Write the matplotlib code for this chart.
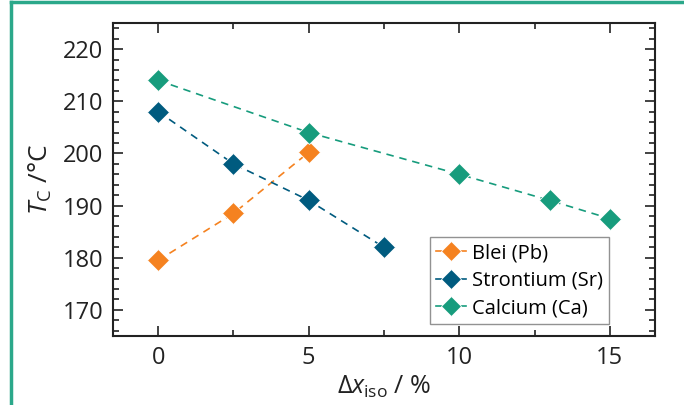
import matplotlib.pyplot as plt
from matplotlib.lines import Line2D
from matplotlib.ticker import MultipleLocator

# data
pb_x = [0, 2.5, 5]
pb_tc = [179.5, 188.5, 200.2]
sr_x = [0, 2.5, 5, 7.5]
sr_tc = [208, 198, 191, 182]
ca_x = [0, 5, 10, 13, 15]
ca_tc = [214, 204, 196, 191, 187.5]

labels = ['Blei (Pb)', 'Strontium (Sr)', 'Calcium (Ca)']
colors = ['#F58220', '#005B7F', '#179C7D']

plt.rcParams['font.family'] = ['Open Sans', 'DejaVu Sans']
plt.rcParams['mathtext.fontset'] = 'custom'
plt.rcParams['mathtext.it'] = 'Open Sans:italic'
plt.rcParams['mathtext.rm'] = 'Open Sans'

W, H = 684, 405
fig = plt.figure(figsize=(6.84, 4.05), dpi=100)
ax = fig.add_axes([113 / W, 1 - 336 / H, (655 - 113) / W, (336 - 23) / H])

for xs, ys, c, lab in zip([pb_x, sr_x, ca_x], [pb_tc, sr_tc, ca_tc], colors, labels):
    ax.plot(xs, ys, ls=(0, (4.5, 3.5)), lw=1.2, color=c, marker='D', ms=11.5,
            mec='white', mew=0.6, label=lab, zorder=3)

ax.set_xlim(-1.5, 16.5)
ax.set_ylim(165, 225)
ax.xaxis.set_major_locator(MultipleLocator(5))
ax.xaxis.set_minor_locator(MultipleLocator(2.5))
ax.yaxis.set_major_locator(MultipleLocator(10))
ax.yaxis.set_minor_locator(MultipleLocator(2))
ax.tick_params(which='both', direction='in', top=True, right=True,
               labelsize=17, colors='#222222', width=1.2)
ax.tick_params(which='major', length=7, pad=7)
ax.tick_params(which='minor', length=4)
for s in ax.spines.values():
    s.set_linewidth(1.5)
    s.set_color('#222222')

ax.set_xlabel(r'$\Delta x_{\rm iso}$ / %', fontsize=18, color='#222222', labelpad=3)
ax.set_ylabel(r'$T_{\rm C}$ /°C', fontsize=19, color='#222222', labelpad=6)

handles = [Line2D([], [], color=c, marker='D', ms=10.5, lw=1.2, mec='white', mew=0.6)
           for c in colors]
leg = ax.legend(handles, labels, loc='lower right', bbox_to_anchor=(0.916, 0.037),
                fontsize=14.5, frameon=True, fancybox=False, edgecolor='#777777',
                handlelength=1.5, handletextpad=0.3, borderpad=0.3, labelspacing=0.38,
                borderaxespad=0)
leg.get_frame().set_linewidth(1.0)

# green frame around the figure
frame_col = '#2BA88A'
fig.add_artist(Line2D([11 / W, 11 / W], [0, 1 - 2 / H], color=frame_col, lw=2.5,
                      transform=fig.transFigure))
fig.add_artist(Line2D([11 / W, 1], [1 - 2 / H, 1 - 2 / H], color=frame_col, lw=2.5,
                      transform=fig.transFigure))

fig.savefig('out.png', dpi=100)
